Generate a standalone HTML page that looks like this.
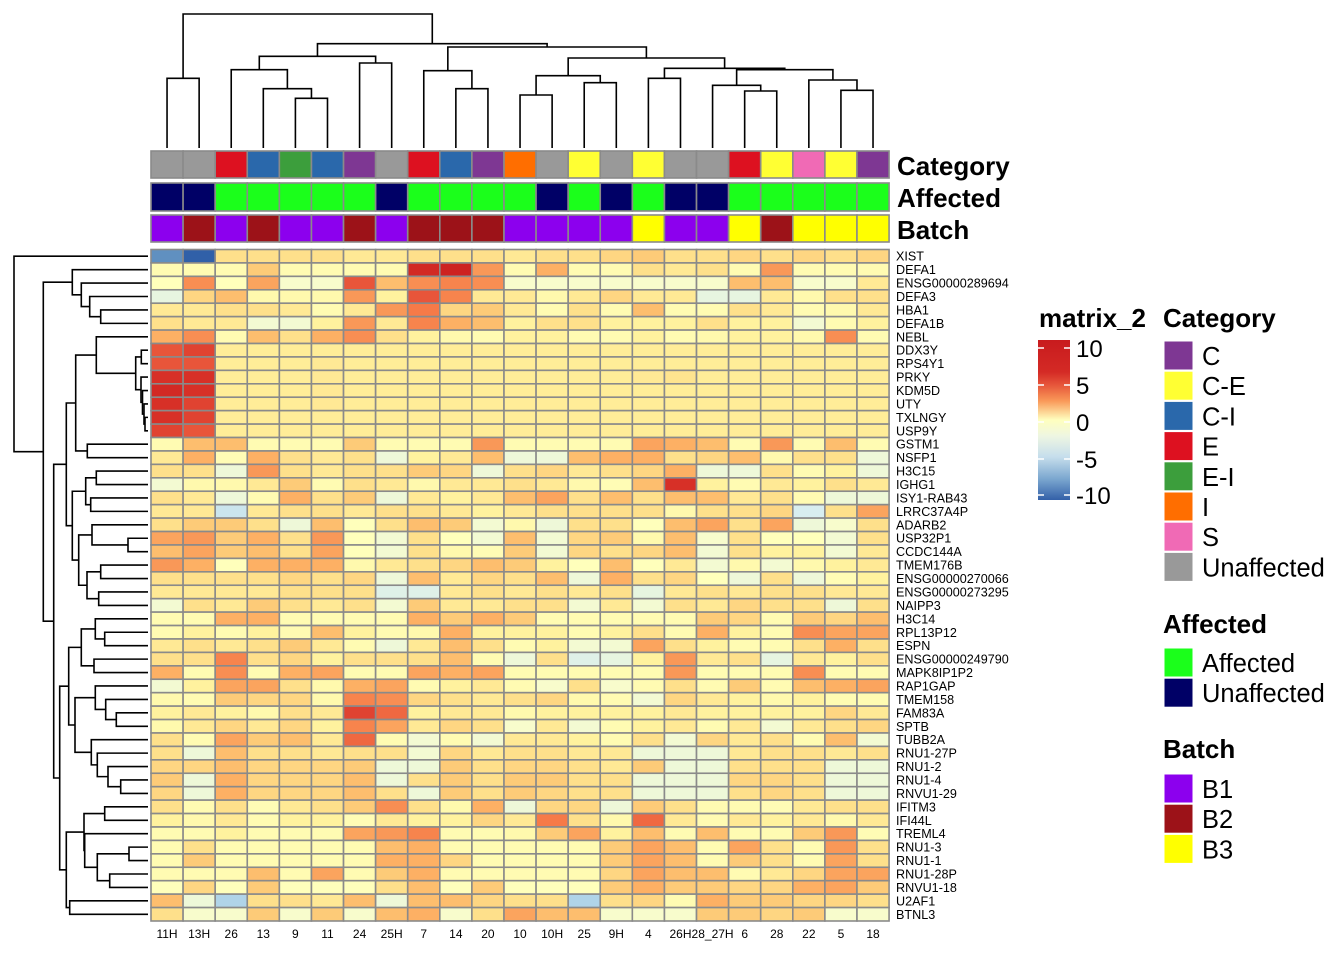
<!DOCTYPE html>
<html><head><meta charset="utf-8"><style>
html,body{margin:0;padding:0;background:#fff;}
svg{display:block;font-family:"Liberation Sans",Arial,sans-serif;}
</style></head><body>
<svg id="chart" width="1344" height="960" viewBox="0 0 1344 960" xmlns="http://www.w3.org/2000/svg">
<defs>
<linearGradient id="cbar" x1="0" y1="0" x2="0" y2="1">
<stop offset="0" stop-color="#C81B1E"/><stop offset="0.2" stop-color="#D42A25"/><stop offset="0.28" stop-color="#E6553A"/><stop offset="0.38" stop-color="#F99858"/><stop offset="0.5" stop-color="#FFFFBF"/><stop offset="0.6" stop-color="#EEF6E2"/><stop offset="0.73" stop-color="#C6DEEC"/><stop offset="0.87" stop-color="#7AA6CF"/><stop offset="1" stop-color="#3360A8"/>
</linearGradient>
</defs>
<g id="dend-col"></g>
<g id="dend-row"></g>
<g id="annos"></g>
<g id="cells"></g>
<g id="rowlabels"></g>
<g id="collabels"></g>
<g font-weight="bold" font-size="26" fill="#000">
<text x="897" y="175">Category</text>
<text x="897" y="207">Affected</text>
<text x="897" y="239">Batch</text>
</g>
<g>
<text x="1039" y="327" font-size="26" font-weight="bold">matrix_2</text>
<rect x="1038" y="340" width="32" height="160" fill="url(#cbar)"/>
<g stroke="#fff" stroke-width="1.5">
<line x1="1038" y1="348" x2="1044" y2="348"/><line x1="1064" y1="348" x2="1070" y2="348"/>
<line x1="1038" y1="385" x2="1044" y2="385"/><line x1="1064" y1="385" x2="1070" y2="385"/>
<line x1="1038" y1="422" x2="1044" y2="422"/><line x1="1064" y1="422" x2="1070" y2="422"/>
<line x1="1038" y1="459" x2="1044" y2="459"/><line x1="1064" y1="459" x2="1070" y2="459"/>
<line x1="1038" y1="495" x2="1044" y2="495"/><line x1="1064" y1="495" x2="1070" y2="495"/>
</g>
<g font-size="24" fill="#000">
<text x="1076" y="357">10</text>
<text x="1076" y="394">5</text>
<text x="1076" y="431">0</text>
<text x="1076" y="468">-5</text>
<text x="1076" y="504">-10</text>
</g>
</g>
<g id="legends"></g>
</svg>
<script>
const colNames=["11H","13H","26","13","9","11","24","25H","7","14","20","10","10H","25","9H","4","26H","28_27H","6","28","22","5","18"];
const rowNames=["XIST","DEFA1","ENSG00000289694","DEFA3","HBA1","DEFA1B","NEBL","DDX3Y","RPS4Y1","PRKY","KDM5D","UTY","TXLNGY","USP9Y","GSTM1","NSFP1","H3C15","IGHG1","ISY1-RAB43","LRRC37A4P","ADARB2","USP32P1","CCDC144A","TMEM176B","ENSG00000270066","ENSG00000273295","NAIPP3","H3C14","RPL13P12","ESPN","ENSG00000249790","MAPK8IP1P2","RAP1GAP","TMEM158","FAM83A","SPTB","TUBB2A","RNU1-27P","RNU1-2","RNU1-4","RNVU1-29","IFITM3","IFI44L","TREML4","RNU1-3","RNU1-1","RNU1-28P","RNVU1-18","U2AF1","BTNL3"];
const categoryVals=["Unaffected","Unaffected","E","C-I","E-I","C-I","C","Unaffected","E","C-I","C","I","Unaffected","C-E","Unaffected","C-E","Unaffected","Unaffected","E","C-E","S","C-E","C"];
const affectedVals=["Unaffected","Unaffected","Affected","Affected","Affected","Affected","Affected","Unaffected","Affected","Affected","Affected","Affected","Unaffected","Affected","Unaffected","Affected","Unaffected","Unaffected","Affected","Affected","Affected","Affected","Affected"];
const batchVals=["B1","B2","B1","B2","B1","B1","B2","B1","B2","B2","B2","B1","B1","B1","B1","B3","B1","B1","B3","B2","B3","B3","B3"];
const categoryLevels=["C","C-E","C-I","E","E-I","I","S","Unaffected"];
const categoryColors=["#7E3793","#FFFF33","#2A68AB","#DD1120","#3C9E3C","#FF6E00","#F06AB5","#999999"];
const affectedLevels=["Affected","Unaffected"];
const affectedColors=["#1BFF1B","#000066"];
const batchLevels=["B1","B2","B3"];
const batchColors=["#8C00EE","#9C1218","#FFFF00"];
const matrixValues=[
[-7,-10,2,2,2,2,1.5,1.5,2,2,2,1.5,2,2,2.5,3,2,2,2.5,2,2.5,2,2.5],
[0.3,0.3,0.3,3,0.3,0.3,0.3,0.3,9,9.5,5,0.3,4,0.3,0.3,2,1.5,2,0.3,5,0.3,0.3,0.3],
[0,5.5,0,4.5,-0.5,-0.5,7.5,3.5,5.5,6,5.5,-0.5,-0.5,-0.5,-0.5,-0.5,-0.5,-0.5,3.5,3.5,-0.5,-0.5,1.5],
[-2,2.5,3.5,0.5,0.5,0.5,5,1,7.5,6,1.5,1.5,0.5,1.5,2.5,1.5,1.5,-2,-2,1.5,0.5,2,2],
[1.5,1.5,2,2,1.5,0.3,1.5,5,6.5,2.5,3,1.5,0.3,2,0.3,3.5,0.3,0.3,2,1.5,0.3,0.5,1.5],
[2,1.5,1.5,-1,-1,1,5,1.5,6,4,3.5,1,2,2,1,1,1,2,1,1,-1,0.3,1],
[4,5.5,0.3,3.5,2,4,5.5,2,1,0.5,0.3,1,1,0.3,0.3,1,0.3,0.5,1,1,0.5,5.5,0.3],
[7.5,8,1.3,1.3,1.3,1.3,1.3,1.3,1.3,1.3,1.3,1.3,1.3,1.3,1.3,1.3,1.3,1.3,1.3,1.3,1.3,1.3,1.3],
[7.5,7.5,1.3,1.3,1.3,1.5,1.3,1.3,1.3,1.3,1.3,1.3,1.3,1.3,1.3,1.3,1.3,1.3,1.3,1.3,1.3,1.3,1.3],
[8.5,8.5,1.3,1.3,1.3,1.5,1.3,1.3,1.3,1.3,1.3,1.3,1.3,1.3,1.3,1.5,1.8,1.3,1.3,1.3,1.3,1.3,1.3],
[9,8.5,1.3,1.3,1.3,1.5,1.3,1.3,1.3,1.3,1.3,1.3,1.3,1.3,1.3,1.3,1.3,1.3,1.3,1.3,1.3,1.3,1.3],
[8.5,8,1.3,1.3,1.3,1.5,1.3,1.3,1.3,1.3,1.3,1.3,1.3,1.3,1.3,1.3,1.3,1.3,1.3,1.3,1.3,1.3,1.3],
[8.5,8,1.3,1.3,1.3,1.3,1.3,1.3,1.3,1.3,1.3,1.3,1.3,1.3,1.3,1.3,1.3,1.3,1.3,1.3,1.3,1.3,1.3],
[8,7.5,1.3,1.3,1.3,1.3,1.3,1.3,1.3,1.3,1.3,1.3,1.3,1.3,1.3,1.3,1.3,1.3,1.3,1.3,1.3,1.3,1.3],
[0.3,3.5,3.5,0.3,0.3,0.3,3,0.3,0.3,0.3,5,0.3,0.3,0.3,0.3,4.5,4,3.5,0.3,5,0.3,3.5,0.3],
[1.5,4,0.2,4,2,1.5,2,-1.5,1,1.5,3.5,-1.5,-1.5,3.5,4,4,2,2.5,3.5,0.5,2,2,-1.5],
[2,2,-1.5,5,2,1.5,2,2,3,2.5,-1.5,2,2.5,1.5,2,2.5,4,-1.5,-1.5,2,0.3,1,-1.5],
[-1,0.5,0.5,1.5,3,0.3,2,1.5,0.5,1.5,1.5,2,1.5,0.5,0.2,3.5,8.5,1,0.3,1.5,1,2,1.5],
[2,1.5,-1.5,0.3,4,2,3,-1.5,1.5,1,1.5,3.5,4.5,2,3.5,2,3.5,3.5,1.5,2,0.3,-1.5,-1.5],
[1.5,1.5,-3.5,1.5,2,2,1.5,2,2,1.5,1,1.5,2,2,2,2,0.5,2,2,2.5,-3,2,4.5],
[2,3,3,2,-1.5,3.5,0,2,3.5,3,-1,0.5,-1.5,2,2,0,3.5,4.5,2,4.5,-1.5,-0.5,2],
[4.5,5,3,4,2,5,0,-1,2,0,-1,3.5,-1,2.5,3,0.5,3.5,-0.5,2,0,0,-1,2],
[3.5,4.5,3,3.5,2,4.5,0,-1,2,0.5,0.2,3,-1,2.5,2,2.5,3.5,-1,2,1,1,-1,1.5],
[5,4,0,4,4,4,0.5,1.5,2,2.5,3.5,3,1,0,3.5,0,1.5,-1,0.5,-1,0.5,1,1.5],
[2,2,2,2,2.5,2,2.5,-1.5,3.5,1.5,2.5,2,3.5,-1.5,4,2,2.5,0,-1.5,2,-1.5,0.2,1],
[1.5,1.5,1.5,1.5,2,2,2,-2.5,-2.5,1.5,2,1.5,2,1.5,2,-2,1.5,2,1.5,2,2,1.5,1.5],
[-1,2,1.5,3,2,1.5,2,-1,3,1.5,1.5,2,2,-1,1.5,-1,2,1.5,2.5,2,2,-1.5,2],
[0.3,0.3,4,4,0.3,0.3,0.3,0.3,4,3,4,3,0.3,0.3,0.3,0.3,0.3,3,2.5,0.3,3,2.5,3.5],
[0.3,1,0.3,1,0.3,3.5,1,0.3,0.5,4,1,1,1,0.3,1,2,0.3,4,1,0.3,5.5,4.5,4.5],
[1.5,2,1.5,2,3,1.5,0.3,-1.5,1.5,3.5,2,0.3,1,-1,-1,4.5,2,1,0.3,0.3,2,4,2],
[2,2,6,2,2.5,1,2,2,2,3.5,0.3,-1.5,2,-2.5,-2,1,5,1.5,2,-2,1.5,1,2],
[4,0.3,5.5,0.3,4,4.5,0.3,0.3,4.5,4,4.5,0.3,0.3,0.3,0.3,0.3,5,0.3,0.3,0.3,5.5,0.3,0.3],
[-1,1,4.5,4.5,2,0.5,4,4.5,0.3,1,1.5,0.3,-0.5,2,-0.5,0.3,2,0.3,3,0.3,3.5,4,4.5],
[0.5,0.3,3,2.5,2.5,0.5,6,5.5,2.5,2,1.5,2,2.5,0.5,0.3,-1,2.5,1.5,1,0.5,1,0.3,0.3],
[1,1.5,1,0.5,2,1.5,8,7,1,1.5,1.5,0.5,1,1,1,1,1.5,1,1,1,1,2.5,1.5],
[0.5,1.5,2.5,1.5,2.5,1,6,4.5,1.5,2.5,2,-0.5,1.5,-1,0.3,1,1.5,0.3,1.5,-1,1.5,2,2.5],
[2,0.3,4.5,3,3.5,1.5,7,0.3,-1,0.3,-1,1.5,1.5,1,0.3,2,-1,2.5,1.5,2,0.3,3.5,-1],
[2,-1.5,3.5,2,2,1.5,2,2,-1,2.5,1.5,2,2,1.5,1.5,-1.5,-1.5,-1.5,1.5,2,2,1.5,2],
[2.5,2.5,3.5,2.5,2.5,2.5,3,-1.5,-1.5,3,2,2.5,2.5,2,1.5,3,-1.5,-1.5,2,2,2,-1.5,-1.5],
[3,-1.5,4,2.5,2.5,2.5,3.5,-1.5,2,3,2,3,3,2,2,-1.5,-1.5,-1.5,2.5,2.5,2,-1.5,-1.5],
[2.5,-1.5,4,2.5,2.5,2.5,3.5,2,-1.5,3,2,3,2.5,2,2,-1.5,-1.5,-1.5,2,2.5,2,-1.5,-1.5],
[2,0.3,2,0.2,1.5,2,3,5.5,2,0.5,4,-1.5,2.5,2.5,-1.5,3,2,0.3,0.3,0.2,1.5,2,2],
[1,0.5,1.5,0.3,1,1,0.2,1.5,1,1,2.5,1.5,6.5,2,0.5,7,1.5,0.3,1.5,1,1.5,0.5,1.5],
[0.3,0.3,1,0.3,0.3,0.3,4.5,5,6,0.3,0.3,0.5,3,4.5,1,3.5,0.3,3.5,0.3,0.3,3,5,0.2],
[0.3,2,0.3,0.3,0.3,0.3,0.3,3.5,4,0.3,0.3,0.3,0.3,0.3,3,4.5,3.5,0.3,4.5,2,0.3,5,2],
[0.3,3,0.3,0.3,0.3,0.3,0.3,4,4,2.5,0.3,0.3,0.3,0.3,3,4.5,3.5,0.3,3,2,0.3,4.5,2],
[0.3,0.3,0.3,3.5,0.3,4.5,0.3,3,4,0.3,0.3,0.3,0.3,0.3,2.5,4.5,3.5,3.5,0.3,1.5,2.5,4.5,4.5],
[0,2.5,0,3,0,0,0,2,3.5,0,3,0,0,0,3,4,3,3,2.5,2.5,4,4.5,3],
[3.5,-1.5,-4.5,2,2,1.5,3.5,-1.5,3.5,3.5,2.5,2,2,-4.5,2,2.5,0.3,4,3,3,2.5,2.5,2],
[2,-0.5,-0.5,3,-0.5,3,-0.5,3.5,4,-0.5,2,4.5,3.5,3.5,-0.5,-0.5,-0.5,3,3,2.5,3,-0.5,-0.5]
];
// dendrogram merges: [left, right, distance]; numbers are leaf indices
const colTree=[[0,1,69.7],[[[2,[3,[4,5,49.7],59.3],78.3],[6,7,85],91.7],[[8,[9,10,59.3],77.3],[[[11,12,53],[13,14,65.3],72.3],[[15,16,69.7],[[17,[18,19,57],62.7],[20,[21,22,57.7],68],78.3],79.7],90],101],104.3],134];
const rowTree=[0,[[1,[2,[3,[4,5,47.3],58.3],66.7],75.7],[[[[6,[[7,8,6.7],[9,[10,[11,[12,13,3],4],5.5],7],12.3],51.7],[14,15,60.7],72.3],[[[16,17,51.7],[18,19,57.3],62.3],[[20,[21,22,20],56],[[23,24,47.3],[25,26,49.3],61],69.3],75.7],81.7],[[[[27,[28,29,43.3],52.7],[30,31,54],66.7],[[32,[33,[34,35,31.7],42.3],52.7],[36,[37,[38,[39,40,27.3],40],50.7],56.7],73],79.3],[[[41,42,43.3],[43,[[44,45,19],[46,47,38.3],50.7],63.3],64],[48,49,78.3],81.7],88.3],94.3],104.7],134];

const NS="http://www.w3.org/2000/svg";
const X0=151,CW=32.09,Y0=249.5,RH=13.43,LEAF=148;
const xScale=i=>X0+CW*i;
const yScale=i=>Y0+RH*i;
const stops=[[-10,"#3060A8"],[-7,"#6090C0"],[-4.5,"#B0D4E8"],[-3,"#D8EEF0"],[-1.5,"#EEF8D8"],[-0.5,"#F8FCCC"],[0,"#FFFFBB"],[1,"#FFF29E"],[2,"#FEE08B"],[3,"#FDCB78"],[4,"#FDB064"],[5,"#F99858"],[6.5,"#F67A48"],[7.5,"#E8553A"],[8.5,"#D73027"],[10,"#C81B1E"]];
function hex(c){return [1,3,5].map(k=>parseInt(c.substr(k,2),16));}
function colorOf(v){
  if(v<=stops[0][0])return stops[0][1];
  for(let k=1;k<stops.length;k++){
    if(v<=stops[k][0]){const a=stops[k-1],b=stops[k];const t=(v-a[0])/(b[0]-a[0]);const ca=hex(a[1]),cb=hex(b[1]);
      return "rgb("+ca.map((x,j)=>Math.round(x+(cb[j]-x)*t)).join(",")+")";}
  }
  return stops[stops.length-1][1];
}
function mk(tag,attrs,parent){const e=document.createElementNS(NS,tag);for(const k in attrs)e.setAttribute(k,attrs[k]);parent.appendChild(e);return e;}

// heatmap cells
const gc=document.getElementById("cells");
matrixValues.forEach((row,r)=>row.forEach((v,c)=>{
  const e=mk("rect",{x:xScale(c),y:yScale(r),width:CW,height:RH,fill:colorOf(v),stroke:"#8a8a8a","stroke-width":1.6},gc);
  
  
}));
// row labels
const gr=document.getElementById("rowlabels");
rowNames.forEach((n,r)=>{
  const t=mk("text",{x:896,y:yScale(r)+RH/2+4.5,"font-size":12.6,fill:"#000"},gr);t.textContent=n;
  
  
});
const gl=document.getElementById("collabels");
colNames.forEach((n,c)=>{
  const t=mk("text",{x:xScale(c)+CW/2,y:938,"font-size":12,"text-anchor":"middle",fill:"#000"},gl);t.textContent=n;
  
  
});
// annotations
const ga=document.getElementById("annos");
const annoSpecs=[[categoryVals,categoryLevels,categoryColors,151,27,"category-cell"],[affectedVals,affectedLevels,affectedColors,183,28,"affected-cell"],[batchVals,batchLevels,batchColors,215,27,"batch-cell"]];
annoSpecs.forEach(s=>{
  s[0].forEach((v,c)=>{
    const e=mk("rect",{x:xScale(c),y:s[3],width:CW,height:s[4],fill:s[2][s[1].indexOf(v)],stroke:"#8a8a8a","stroke-width":1.6},ga);
    
    
  });
});
// dendrograms
function drawTree(node,pos,hToCoord,parent,vertical){
  if(typeof node==="number")return {p:pos(node),d:0};
  const a=drawTree(node[0],pos,hToCoord,parent,vertical),b=drawTree(node[1],pos,hToCoord,parent,vertical);
  const h=hToCoord(node[2]),ha=hToCoord(a.d),hb=hToCoord(b.d);
  let d;
  if(vertical)d=`M${a.p},${ha}V${h}H${b.p}V${hb}`;else d=`M${ha},${a.p}H${h}V${b.p}H${hb}`;
  const e=mk("path",{d:d,fill:"none",stroke:"#000","stroke-width":1.6},parent);
  
  
  return {p:(a.p+b.p)/2,d:node[2]};
}
drawTree(colTree,i=>xScale(i)+CW/2,d=>LEAF-d,document.getElementById("dend-col"),true);
drawTree(rowTree,i=>yScale(i)+RH/2,d=>LEAF-d,document.getElementById("dend-row"),false);
// legends
const lg=document.getElementById("legends");
function legend(title,levels,colors,ty,by,name){
  const t=mk("text",{x:1163,y:ty,"font-size":26,"font-weight":"bold"},lg);t.textContent=title;
  
  
  levels.forEach((l,k)=>{
    const r=mk("rect",{x:1164,y:by+k*30.2,width:29,height:29,fill:colors[k],stroke:"#fff","stroke-width":1},lg);
    
    
    const tx=mk("text",{x:1202,y:by+k*30.2+24,"font-size":25.5},lg);tx.textContent=l;
    
    
  });
}
legend("Category",categoryLevels,categoryColors,327,341,"category");
legend("Affected",affectedLevels,affectedColors,633,648,"affected");
legend("Batch",batchLevels,batchColors,758,774,"batch");
</script>
</body></html>
